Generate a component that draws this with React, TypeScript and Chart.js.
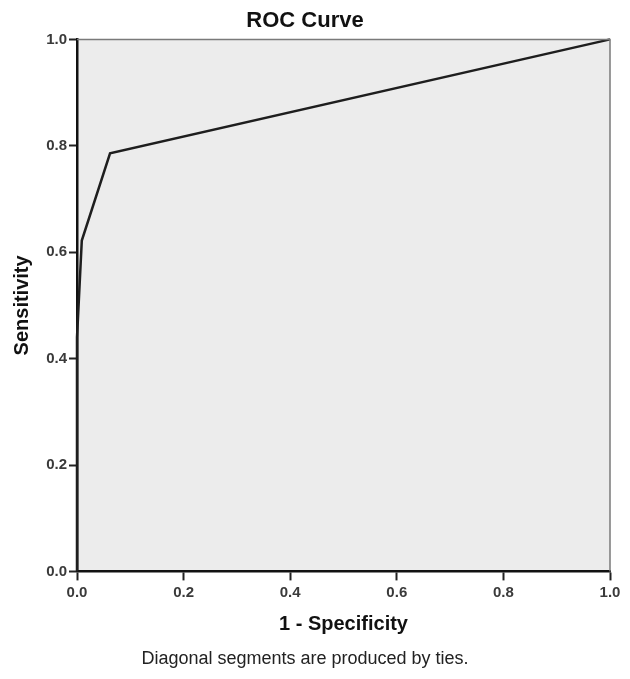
import React, { useEffect, useRef } from "react";
import { Chart, registerables } from "chart.js";

Chart.register(...registerables);

// ROC curve points (1 - Specificity, Sensitivity)
const falsePositiveRate = [0, 0, 0.009, 0.062, 1];
const sensitivity = [0, 0.44, 0.622, 0.786, 1];
const tickValues = [0, 0.2, 0.4, 0.6, 0.8, 1.0];

const chartTitle = "ROC Curve";
const xTitle = "1 - Specificity";
const yTitle = "Sensitivity";
const footnote = "Diagonal segments are produced by ties.";

const FONT = "'Liberation Sans', Arial, sans-serif";

const plotBackground = {
  id: "plotBackground",
  beforeDraw(chart: any) {
    const { ctx, chartArea } = chart;
    if (!chartArea) return;
    ctx.save();
    ctx.fillStyle = "#ececec";
    ctx.fillRect(chartArea.left, chartArea.top, chartArea.right - chartArea.left, chartArea.bottom - chartArea.top);
    ctx.restore();
  },
  afterDraw(chart: any) {
    const { ctx, chartArea } = chart;
    if (!chartArea) return;
    ctx.save();
    ctx.strokeStyle = "#7a7a7a";
    ctx.lineWidth = 1.5;
    ctx.beginPath();
    ctx.moveTo(chartArea.left, chartArea.top);
    ctx.lineTo(chartArea.right, chartArea.top);
    ctx.lineTo(chartArea.right, chartArea.bottom);
    ctx.stroke();
    ctx.restore();
  },
};

export default function App() {
  const ref = useRef<HTMLCanvasElement | null>(null);

  useEffect(() => {
    if (!ref.current) return;
    const chart = new Chart(ref.current, {
      type: "scatter",
      data: {
        datasets: [
          {
            data: falsePositiveRate.map((x, i) => ({ x, y: sensitivity[i] })),
            showLine: true,
            borderColor: "#1e1e1e",
            borderWidth: 2.5,
            pointRadius: 0,
            tension: 0,
            clip: false as any,
          },
        ],
      },
      options: {
        responsive: false,
        animation: false,
        layout: { padding: { left: 0, right: 20, top: 0, bottom: 0 } },
        plugins: {
          legend: { display: false },
          tooltip: { enabled: false },
          title: {
            display: true,
            text: chartTitle,
            color: "#111",
            font: { family: FONT, size: 22, weight: "bold" },
            padding: { top: 8, bottom: 5 },
          },
          subtitle: {
            display: true,
            position: "bottom",
            text: footnote,
            color: "#222",
            font: { family: FONT, size: 18, weight: "normal" },
            padding: { top: 0, bottom: 9 },
          },
        },
        scales: {
          x: {
            type: "linear",
            min: 0,
            max: 1,
            afterFit(scale: any) {
              scale.height = 77;
            },
            afterBuildTicks(scale: any) {
              scale.ticks = tickValues.map((v) => ({ value: v }));
            },
            ticks: {
              color: "#3a3a3a",
              font: { family: FONT, size: 15, weight: "bold" },
              padding: 3,
              maxRotation: 0,
              callback: (v: any) => Number(v).toFixed(1),
            },
            grid: {
              display: true,
              drawOnChartArea: false,
              drawTicks: true,
              tickLength: 9,
              tickColor: "#222",
              tickWidth: 2,
            },
            border: { display: true, color: "#111", width: 2.5 },
            title: {
              display: true,
              text: xTitle,
              color: "#111",
              font: { family: FONT, size: 20, weight: "bold" },
              padding: { top: 0, bottom: 12 },
            },
          },
          y: {
            type: "linear",
            min: 0,
            max: 1,
            afterFit(scale: any) {
              scale.width = 77;
            },
            afterBuildTicks(scale: any) {
              scale.ticks = tickValues.map((v) => ({ value: v }));
            },
            ticks: {
              color: "#3a3a3a",
              font: { family: FONT, size: 15, weight: "bold" },
              padding: 2,
              callback: (v: any) => Number(v).toFixed(1),
            },
            grid: {
              display: true,
              drawOnChartArea: false,
              drawTicks: true,
              tickLength: 8,
              tickColor: "#222",
              tickWidth: 2,
            },
            border: { display: true, color: "#111", width: 2.5 },
            title: {
              display: true,
              text: yTitle,
              color: "#111",
              font: { family: FONT, size: 20, weight: "bold" },
              padding: { top: 10, bottom: 0 },
            },
          },
        },
      },
      plugins: [plotBackground],
    });
    return () => chart.destroy();
  }, []);

  return (
    <div style={{ position: "absolute", left: 0, top: 0, width: 630, height: 679, background: "#fff" }}>
      <canvas ref={ref} width={630} height={679} style={{ display: "block" }} />
    </div>
  );
}
